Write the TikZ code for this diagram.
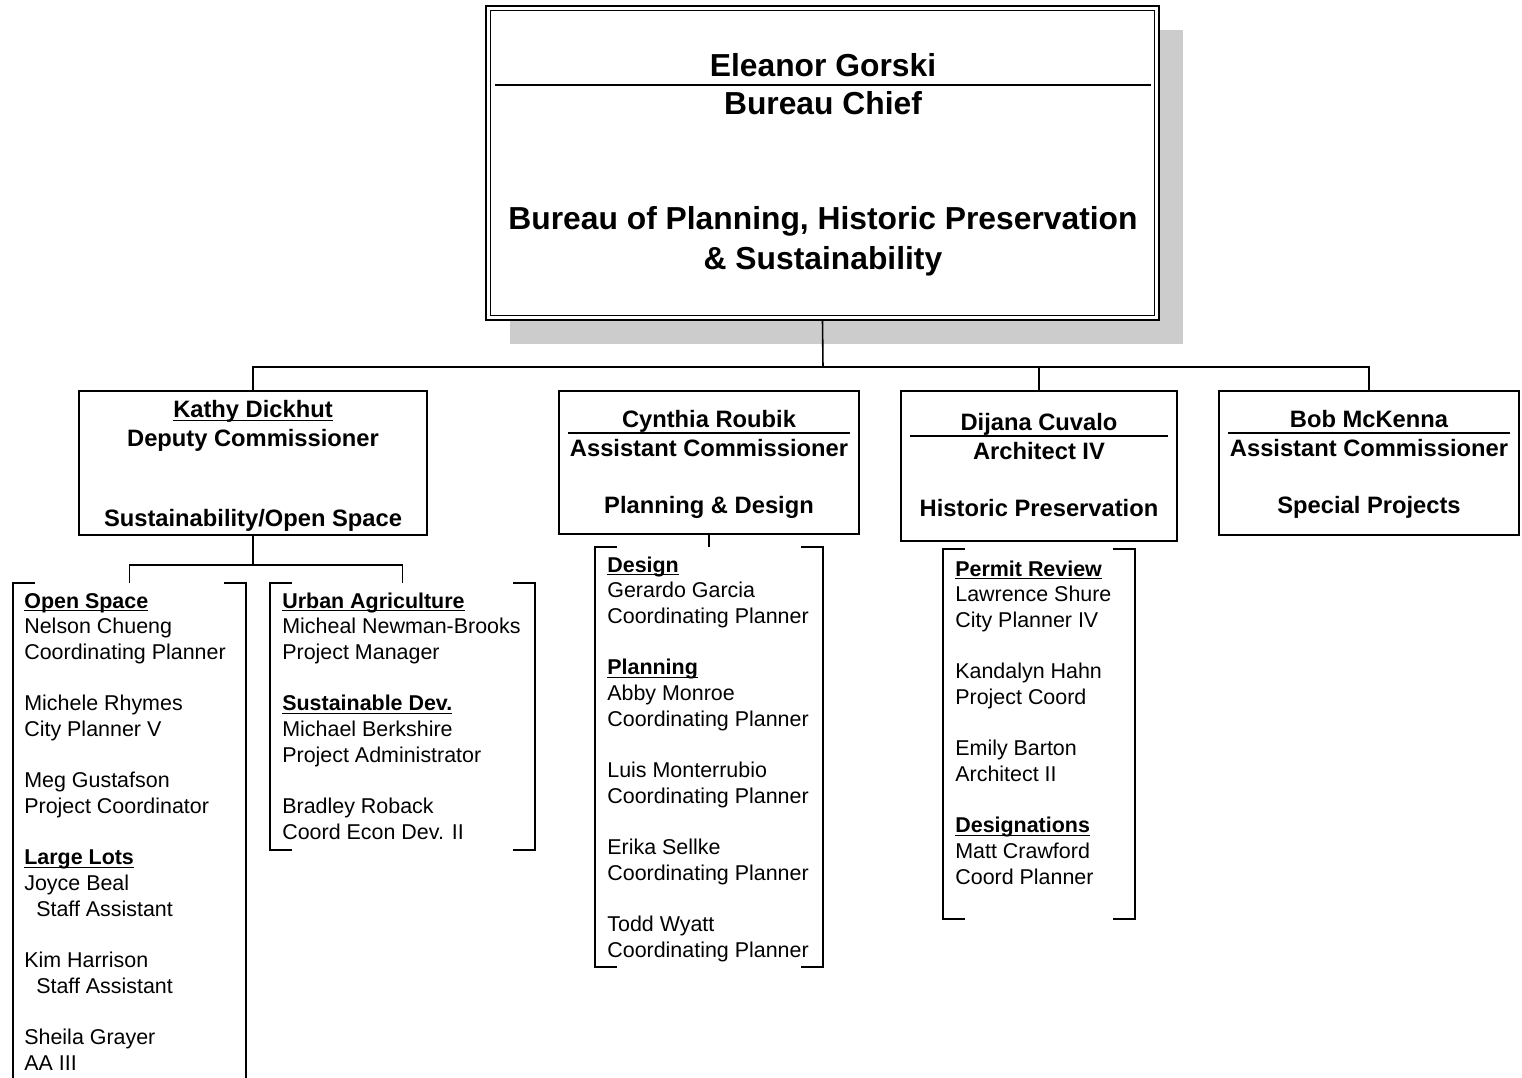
\documentclass[tikz,border=0pt]{standalone}
\usepackage{fontspec}
\setmainfont{Liberation Sans}
\usetikzlibrary{shadows}
\definecolor{shadowgray}{HTML}{CCCCCC}
\newcommand{\uln}[1]{\underline{\smash{#1}}}

\begin{document}
\begin{tikzpicture}[x=0.02cm, y=-0.02cm,
	box/.style={draw, line width=1.1pt, fill=white, inner sep=0pt},
	grp/.style={inner sep=0pt, outer sep=0pt},
	conn/.style={line width=0.9pt},
	brk/.style={line width=1.1pt},
	chief/.style={anchor=base, align=center, inner sep=0pt, font=\fontsize{18.1}{22.2}\selectfont\bfseries},
	head/.style={anchor=base, align=center, inner sep=0pt, font=\fontsize{13.5}{16.5}\selectfont\bfseries},
	staff/.style={anchor=base west, align=left, inner sep=0pt, font=\fontsize{12.2}{14.6}\selectfont}]
\useasboundingbox (0,0) rectangle (1522,1078);

% bureau chief
\node[box, minimum width=13.46cm, minimum height=6.28cm,
	drop shadow={shadow xshift=0.48cm, shadow yshift=-0.48cm, fill=shadowgray, opacity=1}] (eg) at (822.5,163) {};
\draw[line width=0.6pt] ([shift={(5,5)}]eg.north west) rectangle ([shift={(-5,-5)}]eg.south east);
\draw[line width=0.9pt] ([shift={(10,80)}]eg.north west) -- ([shift={(-9,80)}]eg.north east);
\node[chief] (eg-n) at (823,77) {Eleanor Gorski};
\node[chief] (eg-t) at (823,114) {Bureau Chief};
% base of a multi-line node = its last line
\node[chief] (eg-d) at (823,269) {Bureau of Planning, Historic Preservation\\\& Sustainability};

% division heads
\node[box, minimum width=6.96cm, minimum height=2.88cm] (kd) at (253,463) {};
\node[box, minimum width=6cm, minimum height=2.86cm] (cr) at (709,462.5) {};
\node[box, minimum width=5.52cm, minimum height=3cm] (dc) at (1039,466) {};
\node[box, minimum width=6cm, minimum height=2.88cm] (bm) at (1369,463) {};
\foreach \b/\r in {cr/43, dc/46, bm/43}
	\draw[line width=0.9pt] ([shift={(10,\r)}]\b.north west) -- ([shift={(-10,\r)}]\b.north east);

\node[head] (kd-n) at (253,446.5) {\uln{Kathy Dickhut}\\Deputy Commissioner};
\node[head] (kd-d) at (253,526.5) {Sustainability/Open Space};
\node[head] (cr-n) at (709,456.5) {Cynthia Roubik\\Assistant Commissioner};
\node[head] (cr-d) at (709,513.5) {Planning \& Design};
\node[head] (dc-n) at (1039,459.5) {Dijana Cuvalo\\Architect IV};
\node[head] (dc-d) at (1039,516.5) {Historic Preservation};
\node[head] (bm-n) at (1369,456.5) {Bob McKenna\\Assistant Commissioner};
\node[head] (bm-d) at (1369,513.5) {Special Projects};

% staff groups
\node[grp, minimum width=4.66cm, minimum height=10.34cm] (os) at (129.5,841.5) {};
\node[grp, minimum width=5.3cm, minimum height=5.34cm] (ua) at (402.5,716.5) {};
\node[grp, minimum width=4.56cm, minimum height=8.4cm] (pd) at (709,757) {};
\node[grp, minimum width=3.84cm, minimum height=7.4cm] (hp) at (1039,734) {};
\foreach \g in {os,ua,pd,hp}{
	\draw[brk] ([shift={(22,0)}]\g.north west) -- (\g.north west) -- (\g.south west) -- ++(22,0);
	\draw[brk] ([shift={(-22,0)}]\g.north east) -- (\g.north east) -- (\g.south east) -- ++(-22,0);
}

\node[staff] (os-t) at (24,1070) {\uln{\textbf{Open Space}}\\Nelson Chueng\\Coordinating Planner\\[14.6pt]
	Michele Rhymes\\City Planner V\\[14.6pt]
	Meg Gustafson\\Project Coordinator\\[14.6pt]
	\uln{\textbf{Large Lots}}\\Joyce Beal\\\ \ Staff Assistant\\[14.6pt]
	Kim Harrison\\\ \ Staff Assistant\\[14.6pt]
	Sheila Grayer\\AA III};
\node[staff] (ua-t) at (282,839) {\uln{\textbf{Urban Agriculture}}\\Micheal Newman-Brooks\\Project Manager\\[14.6pt]
	\uln{\textbf{Sustainable Dev.}}\\Michael Berkshire\\Project Administrator\\[14.6pt]
	Bradley Roback\\Coord Econ Dev. II};
\node[staff] (pd-t) at (607,957) {\uln{\textbf{Design}}\\Gerardo Garcia\\Coordinating Planner\\[14.6pt]
	\uln{\textbf{Planning}}\\Abby Monroe\\Coordinating Planner\\[14.6pt]
	Luis Monterrubio\\Coordinating Planner\\[14.6pt]
	Erika Sellke\\Coordinating Planner\\[14.6pt]
	Todd Wyatt\\Coordinating Planner};
\node[staff] (hp-t) at (955,884) {\uln{\textbf{Permit Review}}\\Lawrence Shure\\City Planner IV\\[14.6pt]
	Kandalyn Hahn\\Project Coord\\[14.6pt]
	Emily Barton\\Architect II\\[14.6pt]
	\uln{\textbf{Designations}}\\Matt Crawford\\Coord Planner};

% connectors
\coordinate (bus) at (823,367);
\draw[conn] (eg.south) -- (bus);
\foreach \b in {kd,dc,bm}
	\draw[conn] (\b.north) |- (bus);
\coordinate (kbus) at (253,565);
\draw[conn] (kd.south) -- (kbus);
\foreach \g in {os,ua}
	\draw[conn] (\g.north) |- (kbus);
\draw[conn] (cr.south) -- (pd.north);
\end{tikzpicture}
\end{document}
